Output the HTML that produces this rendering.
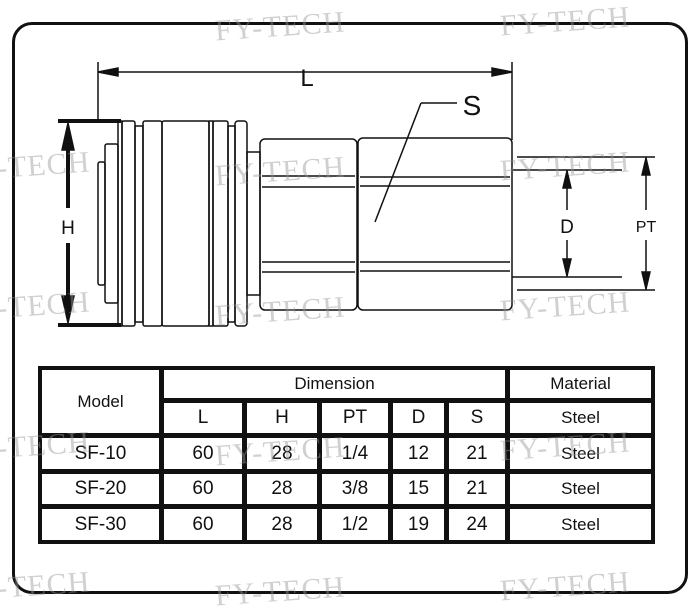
<!DOCTYPE html>
<html><head><meta charset="utf-8"><style>
body{margin:0;width:700px;height:605px;background:#fff;position:relative;overflow:hidden;font-family:"Liberation Sans",sans-serif}
.frame{position:absolute;left:12px;top:22px;width:670px;height:566px;border:3px solid #111;border-radius:20px}
table{position:absolute;left:38px;top:366px;width:617px;height:178px;border-collapse:separate;border-spacing:3px;background:#111;table-layout:fixed}
td{background:#fff;text-align:center;font-size:19px;color:#111;padding:0;border:1px solid #111}
.h{font-size:17px}
.wm{position:absolute;font-family:"Liberation Serif",serif;font-size:30px;color:rgba(150,150,150,0.45);transform:rotate(-4deg);white-space:nowrap;letter-spacing:1px}
</style></head><body>
<div class="frame"></div>
<svg width="700" height="605" style="position:absolute;left:0;top:0" fill="none" stroke="#111" stroke-width="1.5">
<!-- L dimension -->
<line x1="98" y1="62" x2="98" y2="121"/><line x1="512" y1="62" x2="512" y2="140"/>
<line x1="98" y1="72" x2="512" y2="72"/>
<polygon points="98,72 118,68 118,76" fill="#111"/><polygon points="512,72 492,68 492,76" fill="#111"/>
<!-- H -->
<line x1="58" y1="121" x2="121" y2="121" stroke-width="4"/><line x1="58" y1="325" x2="121" y2="325" stroke-width="4"/>
<line x1="68" y1="135" x2="68" y2="208" stroke-width="4"/><line x1="68" y1="243" x2="68" y2="312" stroke-width="4"/>
<polygon points="68,123 62,150 74,150" fill="#111"/><polygon points="68,323 62,296 74,296" fill="#111"/>
<!-- front -->
<rect x="98" y="162" width="7" height="123" rx="2"/>
<rect x="105" y="144" width="13" height="159" rx="2"/>
<rect x="118" y="121" width="4" height="205"/>
<rect x="122" y="121" width="13" height="205" rx="2"/>
<rect x="135" y="126" width="8" height="196"/>
<rect x="143" y="121" width="19" height="205" rx="2"/>
<rect x="162" y="121" width="47" height="205" rx="2"/>
<rect x="209" y="121" width="4" height="205"/>
<rect x="213" y="121" width="15" height="205" rx="2"/>
<rect x="228" y="126" width="7" height="196"/>
<rect x="235" y="121" width="12" height="205" rx="3"/>
<rect x="247" y="152" width="13" height="143"/>
<!-- hexes -->
<rect x="260" y="139" width="97" height="171" rx="5"/>
<line x1="262" y1="176" x2="355" y2="176"/><line x1="262" y1="187" x2="355" y2="187"/>
<line x1="262" y1="262" x2="355" y2="262"/><line x1="262" y1="272" x2="355" y2="272"/>
<rect x="358" y="138" width="154" height="172" rx="5"/>
<line x1="360" y1="177" x2="510" y2="177"/><line x1="360" y1="186" x2="510" y2="186"/>
<line x1="360" y1="262" x2="510" y2="262"/><line x1="360" y1="271" x2="510" y2="271"/>
<!-- S leader -->
<line x1="421" y1="103" x2="457" y2="103"/><line x1="421" y1="103" x2="375" y2="222"/>
<!-- D/PT -->
<line x1="517" y1="157" x2="655" y2="157"/><line x1="517" y1="290" x2="655" y2="290"/>
<line x1="512" y1="170" x2="622" y2="170"/><line x1="512" y1="277" x2="622" y2="277"/>
<line x1="567" y1="170" x2="567" y2="210"/><line x1="567" y1="240" x2="567" y2="277"/>
<polygon points="567,171 563,188 571,188" fill="#111"/><polygon points="567,276 563,259 571,259" fill="#111"/>
<line x1="646" y1="157" x2="646" y2="210"/><line x1="646" y1="240" x2="646" y2="290"/>
<polygon points="646,158 642,175 650,175" fill="#111"/><polygon points="646,289 642,272 650,272" fill="#111"/>
<g stroke="none" fill="#111" font-family="Liberation Sans, sans-serif">
<text x="307" y="86" font-size="24" text-anchor="middle">L</text>
<text x="472" y="115" font-size="28" text-anchor="middle">S</text>
<text x="68" y="234" font-size="19" text-anchor="middle">H</text>
<text x="567" y="233" font-size="19" text-anchor="middle">D</text>
<text x="646" y="232" font-size="16" text-anchor="middle">PT</text>
</g>
</svg>
<table>
<colgroup><col style="width:119px"><col style="width:80px"><col style="width:72px"><col style="width:68px"><col style="width:53px"><col style="width:58px"><col></colgroup>
<tr><td rowspan="2" class="h">Model</td><td colspan="5" class="h">Dimension</td><td class="h">Material</td></tr>
<tr><td>L</td><td>H</td><td>PT</td><td>D</td><td>S</td><td class="h">Steel</td></tr>
<tr><td>SF-10</td><td>60</td><td>28</td><td>1/4</td><td>12</td><td>21</td><td class="h">Steel</td></tr>
<tr><td>SF-20</td><td>60</td><td>28</td><td>3/8</td><td>15</td><td>21</td><td class="h">Steel</td></tr>
<tr><td>SF-30</td><td>60</td><td>28</td><td>1/2</td><td>19</td><td>24</td><td class="h">Steel</td></tr>
</table>
<div class="wm" style="left:215px;top:10px">FY-TECH</div>
<div class="wm" style="left:500px;top:5px">FY-TECH</div>
<div class="wm" style="left:-40px;top:150px">FY-TECH</div>
<div class="wm" style="left:215px;top:155px">FY-TECH</div>
<div class="wm" style="left:500px;top:150px">FY-TECH</div>
<div class="wm" style="left:-40px;top:290px">FY-TECH</div>
<div class="wm" style="left:215px;top:295px">FY-TECH</div>
<div class="wm" style="left:500px;top:290px">FY-TECH</div>
<div class="wm" style="left:-40px;top:430px">FY-TECH</div>
<div class="wm" style="left:215px;top:435px">FY-TECH</div>
<div class="wm" style="left:500px;top:430px">FY-TECH</div>
<div class="wm" style="left:-40px;top:570px">FY-TECH</div>
<div class="wm" style="left:215px;top:575px">FY-TECH</div>
<div class="wm" style="left:500px;top:570px">FY-TECH</div>
</body></html>
